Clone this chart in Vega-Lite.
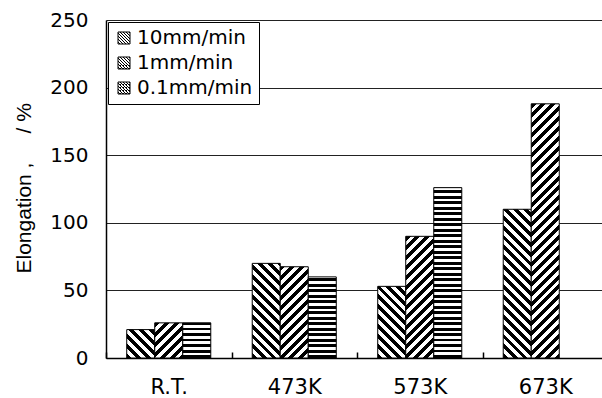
{
  "$schema": "https://vega.github.io/schema/vega-lite/v6.json",
  "width": 496,
  "height": 338,
  "autosize": {"type": "none"},
  "padding": {"left": 106, "top": 20, "right": 0, "bottom": 40},
  "background": "white",
  "params": [
    {"name": "hatch", "value": [
      {"offset":0,"color":"#000"},{"offset":0.0125,"color":"#000"},{"offset":0.0125,"color":"#fff"},{"offset":0.025,"color":"#fff"},
      {"offset":0.025,"color":"#000"},{"offset":0.0375,"color":"#000"},{"offset":0.0375,"color":"#fff"},{"offset":0.05,"color":"#fff"},
      {"offset":0.05,"color":"#000"},{"offset":0.0625,"color":"#000"},{"offset":0.0625,"color":"#fff"},{"offset":0.075,"color":"#fff"},
      {"offset":0.075,"color":"#000"},{"offset":0.0875,"color":"#000"},{"offset":0.0875,"color":"#fff"},{"offset":0.1,"color":"#fff"},
      {"offset":0.1,"color":"#000"},{"offset":0.1125,"color":"#000"},{"offset":0.1125,"color":"#fff"},{"offset":0.125,"color":"#fff"},
      {"offset":0.125,"color":"#000"},{"offset":0.1375,"color":"#000"},{"offset":0.1375,"color":"#fff"},{"offset":0.15,"color":"#fff"},
      {"offset":0.15,"color":"#000"},{"offset":0.1625,"color":"#000"},{"offset":0.1625,"color":"#fff"},{"offset":0.175,"color":"#fff"},
      {"offset":0.175,"color":"#000"},{"offset":0.1875,"color":"#000"},{"offset":0.1875,"color":"#fff"},{"offset":0.2,"color":"#fff"},
      {"offset":0.2,"color":"#000"},{"offset":0.2125,"color":"#000"},{"offset":0.2125,"color":"#fff"},{"offset":0.225,"color":"#fff"},
      {"offset":0.225,"color":"#000"},{"offset":0.2375,"color":"#000"},{"offset":0.2375,"color":"#fff"},{"offset":0.25,"color":"#fff"},
      {"offset":0.25,"color":"#000"},{"offset":0.2625,"color":"#000"},{"offset":0.2625,"color":"#fff"},{"offset":0.275,"color":"#fff"},
      {"offset":0.275,"color":"#000"},{"offset":0.2875,"color":"#000"},{"offset":0.2875,"color":"#fff"},{"offset":0.3,"color":"#fff"},
      {"offset":0.3,"color":"#000"},{"offset":0.3125,"color":"#000"},{"offset":0.3125,"color":"#fff"},{"offset":0.325,"color":"#fff"},
      {"offset":0.325,"color":"#000"},{"offset":0.3375,"color":"#000"},{"offset":0.3375,"color":"#fff"},{"offset":0.35,"color":"#fff"},
      {"offset":0.35,"color":"#000"},{"offset":0.3625,"color":"#000"},{"offset":0.3625,"color":"#fff"},{"offset":0.375,"color":"#fff"},
      {"offset":0.375,"color":"#000"},{"offset":0.3875,"color":"#000"},{"offset":0.3875,"color":"#fff"},{"offset":0.4,"color":"#fff"},
      {"offset":0.4,"color":"#000"},{"offset":0.4125,"color":"#000"},{"offset":0.4125,"color":"#fff"},{"offset":0.425,"color":"#fff"},
      {"offset":0.425,"color":"#000"},{"offset":0.4375,"color":"#000"},{"offset":0.4375,"color":"#fff"},{"offset":0.45,"color":"#fff"},
      {"offset":0.45,"color":"#000"},{"offset":0.4625,"color":"#000"},{"offset":0.4625,"color":"#fff"},{"offset":0.475,"color":"#fff"},
      {"offset":0.475,"color":"#000"},{"offset":0.4875,"color":"#000"},{"offset":0.4875,"color":"#fff"},{"offset":0.5,"color":"#fff"},
      {"offset":0.5,"color":"#000"},{"offset":0.5125,"color":"#000"},{"offset":0.5125,"color":"#fff"},{"offset":0.525,"color":"#fff"},
      {"offset":0.525,"color":"#000"},{"offset":0.5375,"color":"#000"},{"offset":0.5375,"color":"#fff"},{"offset":0.55,"color":"#fff"},
      {"offset":0.55,"color":"#000"},{"offset":0.5625,"color":"#000"},{"offset":0.5625,"color":"#fff"},{"offset":0.575,"color":"#fff"},
      {"offset":0.575,"color":"#000"},{"offset":0.5875,"color":"#000"},{"offset":0.5875,"color":"#fff"},{"offset":0.6,"color":"#fff"},
      {"offset":0.6,"color":"#000"},{"offset":0.6125,"color":"#000"},{"offset":0.6125,"color":"#fff"},{"offset":0.625,"color":"#fff"},
      {"offset":0.625,"color":"#000"},{"offset":0.6375,"color":"#000"},{"offset":0.6375,"color":"#fff"},{"offset":0.65,"color":"#fff"},
      {"offset":0.65,"color":"#000"},{"offset":0.6625,"color":"#000"},{"offset":0.6625,"color":"#fff"},{"offset":0.675,"color":"#fff"},
      {"offset":0.675,"color":"#000"},{"offset":0.6875,"color":"#000"},{"offset":0.6875,"color":"#fff"},{"offset":0.7,"color":"#fff"},
      {"offset":0.7,"color":"#000"},{"offset":0.7125,"color":"#000"},{"offset":0.7125,"color":"#fff"},{"offset":0.725,"color":"#fff"},
      {"offset":0.725,"color":"#000"},{"offset":0.7375,"color":"#000"},{"offset":0.7375,"color":"#fff"},{"offset":0.75,"color":"#fff"},
      {"offset":0.75,"color":"#000"},{"offset":0.7625,"color":"#000"},{"offset":0.7625,"color":"#fff"},{"offset":0.775,"color":"#fff"},
      {"offset":0.775,"color":"#000"},{"offset":0.7875,"color":"#000"},{"offset":0.7875,"color":"#fff"},{"offset":0.8,"color":"#fff"},
      {"offset":0.8,"color":"#000"},{"offset":0.8125,"color":"#000"},{"offset":0.8125,"color":"#fff"},{"offset":0.825,"color":"#fff"},
      {"offset":0.825,"color":"#000"},{"offset":0.8375,"color":"#000"},{"offset":0.8375,"color":"#fff"},{"offset":0.85,"color":"#fff"},
      {"offset":0.85,"color":"#000"},{"offset":0.8625,"color":"#000"},{"offset":0.8625,"color":"#fff"},{"offset":0.875,"color":"#fff"},
      {"offset":0.875,"color":"#000"},{"offset":0.8875,"color":"#000"},{"offset":0.8875,"color":"#fff"},{"offset":0.9,"color":"#fff"},
      {"offset":0.9,"color":"#000"},{"offset":0.9125,"color":"#000"},{"offset":0.9125,"color":"#fff"},{"offset":0.925,"color":"#fff"},
      {"offset":0.925,"color":"#000"},{"offset":0.9375,"color":"#000"},{"offset":0.9375,"color":"#fff"},{"offset":0.95,"color":"#fff"},
      {"offset":0.95,"color":"#000"},{"offset":0.9625,"color":"#000"},{"offset":0.9625,"color":"#fff"},{"offset":0.975,"color":"#fff"},
      {"offset":0.975,"color":"#000"},{"offset":0.9875,"color":"#000"},{"offset":0.9875,"color":"#fff"},{"offset":1,"color":"#fff"}
    ]}
  ],
  "data": {"values": [
    {"temp": "R.T.", "rate": "10mm/min", "elong": 21},
    {"temp": "R.T.", "rate": "1mm/min", "elong": 26},
    {"temp": "R.T.", "rate": "0.1mm/min", "elong": 26},
    {"temp": "473K", "rate": "10mm/min", "elong": 70},
    {"temp": "473K", "rate": "1mm/min", "elong": 67.5},
    {"temp": "473K", "rate": "0.1mm/min", "elong": 60},
    {"temp": "573K", "rate": "10mm/min", "elong": 53},
    {"temp": "573K", "rate": "1mm/min", "elong": 90},
    {"temp": "573K", "rate": "0.1mm/min", "elong": 126},
    {"temp": "673K", "rate": "10mm/min", "elong": 110},
    {"temp": "673K", "rate": "1mm/min", "elong": 188}
  ]},
  "mark": {
    "type": "bar",
    "strokeWidth": 1,
    "fill": {"expr": "datum.rate === '0.1mm/min' ? {gradient: 'linear', x1: 0, y1: 1, x2: 0, y2: 1 - 220 / max(1, scale('y', 0) - scale('y', datum.elong)), stops: hatch} : datum.rate === '1mm/min' ? {gradient: 'linear', x1: 0, y1: 0, x2: 396 * bandwidth('xOffset') / (pow(bandwidth('xOffset'), 2) + pow(scale('y', 0) - scale('y', datum.elong), 2)), y2: 396 * (scale('y', 0) - scale('y', datum.elong)) / (pow(bandwidth('xOffset'), 2) + pow(scale('y', 0) - scale('y', datum.elong), 2)), stops: hatch} : {gradient: 'linear', x1: 0, y1: 1, x2: 396 * bandwidth('xOffset') / (pow(bandwidth('xOffset'), 2) + pow(scale('y', 0) - scale('y', datum.elong), 2)), y2: 1 - 396 * (scale('y', 0) - scale('y', datum.elong)) / (pow(bandwidth('xOffset'), 2) + pow(scale('y', 0) - scale('y', datum.elong), 2)), stops: hatch}"}
  },
  "encoding": {
    "x": {
      "field": "temp", "type": "nominal", "sort": ["R.T.", "473K", "573K", "673K"],
      "scale": {"range": [0, 502], "paddingInner": 0, "paddingOuter": 0},
      "axis": {
        "title": null, "labelAngle": 0,
        "labelFont": "DejaVu Sans", "labelFontSize": 21, "labelColor": "#000",
        "labelBaseline": "alphabetic", "labelPadding": 41,
        "domainColor": "#000", "domainWidth": 1.5,
        "tickBand": "extent", "tickSize": -6, "tickColor": "#000", "tickWidth": 1.5
      }
    },
    "xOffset": {"field": "rate", "type": "nominal", "sort": ["10mm/min", "1mm/min", "0.1mm/min"], "scale": {"domain": ["10mm/min", "1mm/min", "0.1mm/min"], "paddingInner": 0, "paddingOuter": 0.74}},
    "y": {
      "field": "elong", "type": "quantitative",
      "scale": {"domain": [0, 250], "nice": false},
      "axis": {
        "values": [0, 50, 100, 150, 200, 250],
        "grid": true, "gridColor": "#222", "gridWidth": 1,
        "domainColor": "#000", "domainWidth": 1.5, "ticks": false,
        "labelFont": "DejaVu Sans", "labelFontSize": 20, "labelColor": "#000", "labelPadding": 18,
        "title": "Elongation ,\u00a0\u00a0\u00a0\u00a0\u00a0/ %",
        "titleFont": "Liberation Sans", "titleFontSize": 21, "titleFontWeight": "normal", "titleColor": "#000",
        "titleAngle": -90, "titleAlign": "left", "titleBaseline": "alphabetic",
        "titleX": -76, "titleY": 253
      }
    },
    "stroke": {
      "field": "rate", "type": "nominal", "sort": ["10mm/min", "1mm/min", "0.1mm/min"],
      "scale": {"domain": ["10mm/min", "1mm/min", "0.1mm/min"], "range": ["#000", "#000", "#000"]},
      "legend": {
        "title": null, "orient": "top-left", "offset": 2, "padding": 6,
        "strokeColor": "#000", "fillColor": "#fff",
        "symbolType": "square", "symbolSize": 144, "symbolStrokeWidth": 1,
        "labelFont": "DejaVu Sans", "labelFontSize": 20, "labelColor": "#000",
        "labelOffset": 3, "rowPadding": 5,
        "encode": {"symbols": {"update": {"fill": {"signal": "datum.value === '10mm/min' ? {gradient: 'linear', x1: 0, y1: 1, x2: 29.5, y2: -28.5, stops: hatch} : datum.value === '1mm/min' ? {gradient: 'linear', x1: 0, y1: 0, x2: 29.5, y2: 29.5, stops: hatch} : {gradient: 'linear', x1: 0, y1: 1, x2: 0, y2: -32.3, stops: hatch}"}}}}
      }
    }
  },
  "config": {"view": {"stroke": null}}
}
